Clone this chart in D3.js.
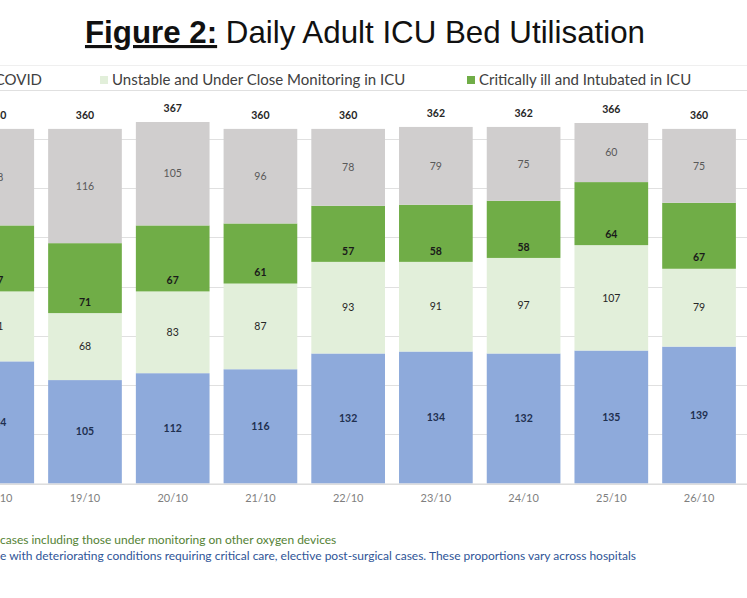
<!DOCTYPE html>
<html><head><meta charset="utf-8">
<script src="https://cdn.jsdelivr.net/npm/d3@7"></script>
<style>body{margin:0;background:#fff} svg{display:block}</style>
</head><body><svg id="c" width="747" height="598"></svg>
<script>
const dates = ["18/10","19/10","20/10","21/10","22/10","23/10","24/10","25/10","26/10"];
const stableCovid = [124,105,112,116,132,134,132,135,139];
const unstable = [71,68,83,87,93,91,97,107,79];
const critical = [67,71,67,61,57,58,58,64,67];
const nonCovid = [98,116,105,96,78,79,75,60,75];
const totals = [360,360,367,360,360,362,362,366,360];
const yTicks = [0,50,100,150,200,250,300,350,400];
const legendLabels = ["COVID","Unstable and Under Close Monitoring in ICU","Critically ill and Intubated in ICU"];
const footnotes = ["cases including those under monitoring on other oxygen devices",
  "e with deteriorating conditions requiring critical care, elective post-surgical cases. These proportions vary across hospitals"];

const keys = ["stable","unstable","critical","non"];
const colors = {stable:"#8eaadb", unstable:"#e2efda", critical:"#70ad47", non:"#d0cece"};
const labelColors = {stable:"#1f3050", unstable:"#262626", critical:"#1a1a1a", non:"#595959"};
const rows = dates.map((d,i)=>({date:d, stable:stableCovid[i], unstable:unstable[i], critical:critical[i], non:nonCovid[i], total:totals[i]}));

const svg = d3.select("#c");
const x = d3.scaleBand().domain(dates).range([-46.6, 742.9]).paddingInner(0.16).paddingOuter(0.08);
const y = d3.scaleLinear().domain([0,400]).range([483.5, 89.5]);

// frame line
svg.append("line").attr("x1",0).attr("x2",747).attr("y1",65.5).attr("y2",65.5).attr("stroke","#efefef");

// gridlines
svg.append("g").selectAll("line").data(yTicks).join("line")
  .attr("x1",0).attr("x2",747)
  .attr("y1",d=>Math.round(y(d))+0.5).attr("y2",d=>Math.round(y(d))+0.5)
  .attr("stroke","#e0e0e0").attr("stroke-width",1);

const stack = d3.stack().keys(keys)(rows);
const g = svg.append("g");
stack.forEach(s=>{
  g.append("g").selectAll("rect").data(s).join("rect")
    .attr("x",d=>x(d.data.date)).attr("width",x.bandwidth())
    .attr("y",d=>y(d[1])).attr("height",d=>y(d[0])-y(d[1]))
    .attr("fill",colors[s.key]);
});
stack.forEach(s=>{
  g.append("g").selectAll("text").data(s).join("text")
    .attr("x",d=>x(d.data.date)+x.bandwidth()/2)
    .attr("y",d=> s.key==="critical" ? y(d[0])-11 : (y(d[0])+y(d[1]))/2)
    .attr("dy","0.35em").attr("text-anchor","middle")
    .attr("font-family","Lato, 'Open Sans', sans-serif").attr("font-size",10.5)
    .attr("font-weight", (s.key==="stable"||s.key==="critical")?"bold":"normal")
    .attr("fill",labelColors[s.key])
    .text(d=>d.data[s.key]);
});
// totals
g.append("g").selectAll("text").data(rows).join("text")
  .attr("x",d=>x(d.date)+x.bandwidth()/2).attr("y",d=>y(d.total)-14)
  .attr("dy","0.35em").attr("text-anchor","middle")
  .attr("font-family","Lato, sans-serif").attr("font-size",10.5).attr("font-weight","bold")
  .attr("fill","#262626").text(d=>d.total);

// x axis
const xAxis = svg.append("g").attr("transform",`translate(0,${y(0)})`).call(d3.axisBottom(x).tickSize(0).tickPadding(11));
xAxis.select(".domain").attr("stroke","#d9d9d9").attr("d","M0,0.5H747");
xAxis.selectAll("text").attr("font-family","Lato, sans-serif").attr("font-size",11).attr("fill","#7f7f7f");

// legend
const leg = svg.append("g").attr("font-family","Lato, 'Open Sans', sans-serif").attr("font-size",15).attr("fill","#404040");
const legX = [-60, 100, 467];
const legKeys = ["stable","unstable","critical"];
legendLabels.forEach((t,i)=>{
  leg.append("rect").attr("x",legX[i]).attr("y",76).attr("width",8).attr("height",8).attr("fill",colors[legKeys[i]]);
  leg.append("text").attr("x", i===0 ? 42 : legX[i]+12).attr("y",80).attr("dy","0.35em")
    .attr("text-anchor", i===0 ? "end" : "start").text(t);
});

// title
const title = svg.append("text").attr("x",365).attr("y",43).attr("text-anchor","middle")
  .attr("font-family","'Liberation Sans', Arial, sans-serif").attr("font-size",31.3).attr("fill","#111");
title.append("tspan").attr("font-weight","bold").attr("text-decoration","underline").text("Figure 2:");
title.append("tspan").text(" Daily Adult ICU Bed Utilisation");

// footnotes
const fcol = ["#548235","#2f5597"];
footnotes.forEach((t,i)=>{
  svg.append("text").attr("x",0).attr("y",540+i*16).attr("dy","0.35em")
    .attr("font-family","Lato, sans-serif").attr("font-size",12).attr("fill",fcol[i]).text(t);
});
</script></body></html>
